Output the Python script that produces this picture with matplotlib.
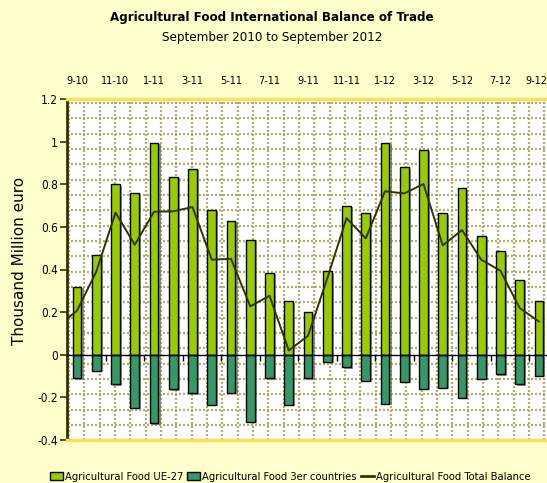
import matplotlib
matplotlib.use('Agg')
import matplotlib.pyplot as plt
import matplotlib.patheffects as pe
from matplotlib.patches import Patch
from matplotlib.lines import Line2D
import numpy as np

plt.rcParams['font.family'] = ['DejaVu Sans']
plt.rcParams['font.stretch'] = 'condensed'

# months Sep 2010 .. Sep 2012
months = ['9-10', '10-10', '11-10', '12-10', '1-11', '2-11', '3-11', '4-11', '5-11',
          '6-11', '7-11', '8-11', '9-11', '10-11', '11-11', '12-11', '1-12', '2-12',
          '3-12', '4-12', '5-12', '6-12', '7-12', '8-12', '9-12']
ue27 = [0.32, 0.47, 0.80, 0.757, 0.994, 0.834, 0.872, 0.679, 0.628, 0.537, 0.384, 0.25,
        0.199, 0.391, 0.70, 0.663, 0.994, 0.879, 0.961, 0.663, 0.781, 0.559, 0.485,
        0.352, 0.254]
third = [-0.111, -0.075, -0.138, -0.25, -0.321, -0.163, -0.18, -0.236, -0.178, -0.316,
         -0.111, -0.235, -0.111, -0.033, -0.058, -0.122, -0.229, -0.127, -0.16, -0.156,
         -0.202, -0.114, -0.091, -0.138, -0.10]
# total balance, first value is Aug 2010 (only its segment shows at the left edge)
balance = [0.133, 0.207, 0.39, 0.667, 0.516, 0.671, 0.673, 0.693, 0.446, 0.45, 0.227,
           0.277, 0.02, 0.089, 0.358, 0.641, 0.546, 0.767, 0.757, 0.801, 0.513, 0.585,
           0.446, 0.394, 0.219, 0.156]

x = np.arange(len(months))
W, H = 547, 483
fig = plt.figure(figsize=(W / 100, H / 100), dpi=100)
fig.patch.set_facecolor('#ffffcc')
ax = fig.add_axes([67.4 / W, 43 / H, 481.2 / W, 341 / H])
ax.set_facecolor('white')

# graph-paper background
gcol = '#a3a255'
for k in range(40):
    fx = (1.6 + k * 15.33) / 481.2
    if fx < 1:
        ax.plot([fx, fx], [0, 1], transform=ax.transAxes, color=gcol, lw=1.6,
                ls=(0, (0.9, 0.9)), alpha=0.85, zorder=0.5)
for k in range(30):
    fy = 1 - (4 + k * 15.33) / 341
    if fy > 0:
        ax.plot([0, 1], [fy, fy], transform=ax.transAxes, color=gcol, lw=1.6,
                ls=(0, (0.9, 0.9)), alpha=0.85, zorder=0.5)

shadow = [pe.SimplePatchShadow(offset=(1.5, -1), shadow_rgbFace='#666666', alpha=0.7),
          pe.Normal()]
bw = 0.46
ax.bar(x, ue27, bw, color='#99cc00', edgecolor='black', lw=1, zorder=2,
       path_effects=shadow)
ax.bar(x, third, bw, color='#339966', edgecolor='black', lw=1, zorder=2,
       path_effects=shadow)
ax.plot(np.arange(-1, len(months)), balance, color='#333300', lw=1.4, zorder=3)

ax.set_xlim(-0.5, len(months) - 0.5)
ax.set_ylim(-0.4, 1.2)
yt = np.arange(-0.4, 1.21, 0.2)
ax.set_yticks(yt)
ax.set_yticklabels(['-0.4', '-0.2', '0', '0.2', '0.4', '0.6', '0.8', '1', '1.2'],
                   fontsize=8.5)
ax.tick_params(axis='y', direction='out', length=5, width=1.2, color='#333300', pad=2)

ax.spines['bottom'].set_position(('data', 0))
ax.spines['bottom'].set_color('black')
ax.spines['bottom'].set_linewidth(1)
ax.spines['bottom'].set_zorder(4)
ax.set_xticks(np.arange(1.5, len(months) - 1, 2))
ax.set_xticklabels([])
ax.tick_params(axis='x', direction='out', length=4, width=1, color='black')
ax.spines['right'].set_visible(False)
ax.spines['left'].set_color('#333300')
ax.spines['left'].set_linewidth(2)
ax.spines['top'].set_color('#ffdd55')
ax.spines['top'].set_linewidth(2.5)
ax.plot([0, 1], [0, 0], transform=ax.transAxes, color='#ffdd55', lw=2.5,
        clip_on=False, zorder=4)

# month labels on top, every second month; last one kept inside the image
top_pos = x[::2].astype(float)
top_pos[-1] += 0.42
sec = ax.secondary_xaxis('top')
sec.set_xticks(top_pos)
sec.set_xticklabels(months[::2], fontsize=7.8)
sec.get_xticklabels()[-1].set_horizontalalignment('right')
sec.tick_params(length=0, pad=9)
sec.spines['top'].set_visible(False)

fig.text(0.497, 1 - 18 / H, 'Agricultural Food International Balance of Trade',
         ha='center', va='center', fontsize=9.5, fontweight='bold')
fig.text(0.497, 1 - 38 / H, 'September 2010 to September 2012',
         ha='center', va='center', fontsize=9.5)
fig.text(20 / W, 1 - 261 / H, 'Thousand Million euro', rotation=90,
         ha='center', va='center', fontsize=11, fontstretch='normal')

handles = [Patch(facecolor='#99cc00', edgecolor='black'),
           Patch(facecolor='#339966', edgecolor='black'),
           Line2D([], [], color='#333300', lw=2)]
labels = ['Agricultural Food UE-27', 'Agricultural Food 3er countries',
          'Agricultural Food Total Balance']
fig.legend(handles, labels, loc='center', bbox_to_anchor=(290 / W, 1 - 477 / H), ncol=3,
           frameon=False, fontsize=8, handlelength=1.2, handleheight=0.8,
           handletextpad=0.15, columnspacing=0.35, borderpad=0)

fig.savefig('out.png', dpi=100, facecolor=fig.get_facecolor())
